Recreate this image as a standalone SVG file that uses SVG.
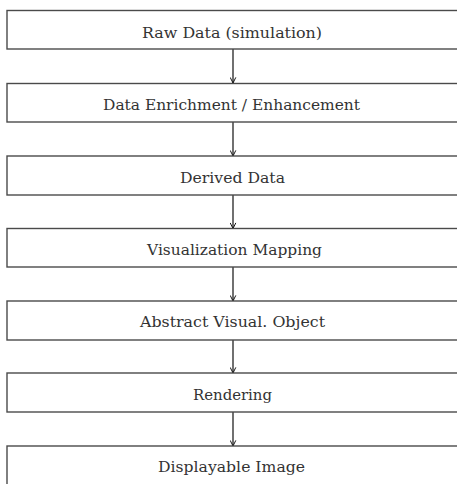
<svg xmlns="http://www.w3.org/2000/svg" width="457" height="484" viewBox="0 0 457 484">
  <style>
    .box { fill: #ffffff; stroke: #4a4a4a; stroke-width: 1.4; }
    .label { font-family: "DejaVu Serif", "Liberation Serif", serif; font-size: 15px; fill: #333333; }
    .conn { stroke: #111111; stroke-width: 1.2; fill: none; }
  </style>
  <defs>
    <marker id="arrow" viewBox="0 0 10 10" refX="9" refY="5" markerWidth="7" markerHeight="7" markerUnits="userSpaceOnUse" orient="auto">
      <path d="M1,1 L9,5 L1,9" fill="none" stroke="#111111" stroke-width="1.4"/>
    </marker>
  </defs>
  <rect width="457" height="484" fill="#ffffff"/>

  <g id="connectors">
    <line class="conn" x1="233" y1="49" x2="233" y2="83" marker-end="url(#arrow)"/>
    <line class="conn" x1="233" y1="122" x2="233" y2="156" marker-end="url(#arrow)"/>
    <line class="conn" x1="233" y1="195" x2="233" y2="228.5" marker-end="url(#arrow)"/>
    <line class="conn" x1="233" y1="267" x2="233" y2="301" marker-end="url(#arrow)"/>
    <line class="conn" x1="233" y1="340" x2="233" y2="373" marker-end="url(#arrow)"/>
    <line class="conn" x1="233" y1="412" x2="233" y2="446" marker-end="url(#arrow)"/>
  </g>

  <g id="raw-data">
    <rect class="box" x="7" y="10.5" width="460" height="38.5"/>
    <text class="label" x="232" y="37.5" text-anchor="middle" textLength="180" lengthAdjust="spacingAndGlyphs">Raw Data (simulation)</text>
  </g>
  <g id="data-enrichment">
    <rect class="box" x="7" y="83.5" width="460" height="38.5"/>
    <text class="label" x="231.5" y="110" text-anchor="middle" textLength="257" lengthAdjust="spacingAndGlyphs">Data Enrichment / Enhancement</text>
  </g>
  <g id="derived-data">
    <rect class="box" x="7" y="156" width="460" height="39"/>
    <text class="label" x="232.5" y="183" text-anchor="middle" textLength="105" lengthAdjust="spacingAndGlyphs">Derived Data</text>
  </g>
  <g id="visualization-mapping">
    <rect class="box" x="7" y="228.5" width="460" height="38.5"/>
    <text class="label" x="234.5" y="255" text-anchor="middle" textLength="175" lengthAdjust="spacingAndGlyphs">Visualization Mapping</text>
  </g>
  <g id="abstract-visual-object">
    <rect class="box" x="7" y="301" width="460" height="39"/>
    <text class="label" x="232.5" y="327" text-anchor="middle" textLength="185" lengthAdjust="spacingAndGlyphs">Abstract Visual. Object</text>
  </g>
  <g id="rendering">
    <rect class="box" x="7" y="373" width="460" height="39"/>
    <text class="label" x="232.5" y="400" text-anchor="middle" textLength="79" lengthAdjust="spacingAndGlyphs">Rendering</text>
  </g>
  <g id="displayable-image">
    <rect class="box" x="7" y="446" width="460" height="50"/>
    <text class="label" x="231.5" y="472" text-anchor="middle" textLength="147" lengthAdjust="spacingAndGlyphs">Displayable Image</text>
  </g>
</svg>
